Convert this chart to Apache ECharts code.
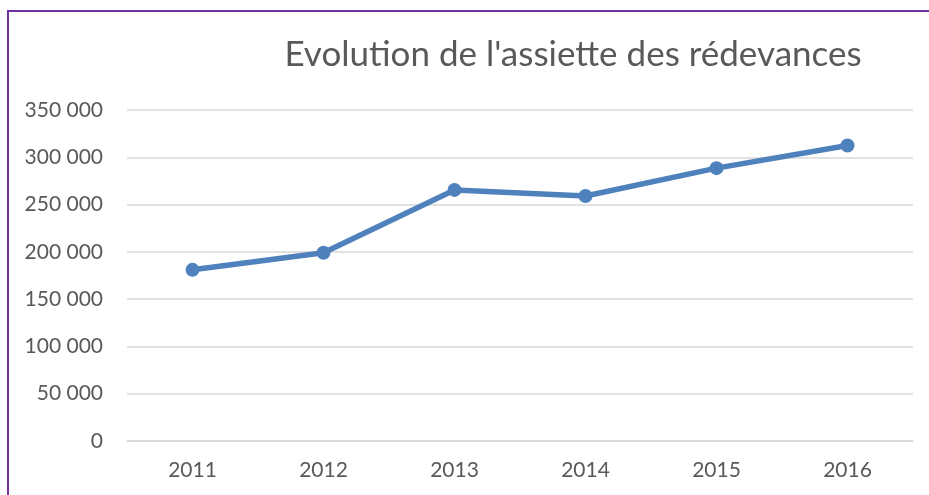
<!DOCTYPE html>
<html>
<head>
<meta charset="utf-8">
<script src="https://cdn.jsdelivr.net/npm/echarts@6/dist/echarts.min.js"></script>
<style>
  html, body { margin: 0; padding: 0; background: #fff; }
  #chart { width: 929px; height: 495px; }
</style>
</head>
<body>
<div id="chart"></div>
<script>
  // values
  var years = ['2011', '2012', '2013', '2014', '2015', '2016'];
  var assiette = [181000, 199000, 265500, 259000, 288500, 312500];
  var yTicks = { min: 0, max: 350000, interval: 50000 };

  function spaceThousands(v) {
    return String(v).replace(/\B(?=(\d{3})+(?!\d))/g, ' ');
  }

  var option = {
    animation: false,
    backgroundColor: '#fff',
    graphic: [{
      type: 'rect',
      shape: { x: 8, y: 11, width: 1000, height: 1000 },
      style: { fill: 'none', stroke: '#7030a0', lineWidth: 2 }
    }],
    title: {
      text: "Evolution de l'assiette des rédevances",
      left: 568,
      textAlign: 'center',
      top: 32,
      textStyle: {
        fontFamily: 'Lato',
        fontSize: 35,
        fontWeight: 'normal',
        color: '#595959'
      }
    },
    grid: { left: 127, right: 16, top: 110, bottom: 54 },
    xAxis: {
      type: 'category',
      data: years,
      boundaryGap: true,
      axisLine: { lineStyle: { color: '#d9d9d9', width: 1.5 } },
      axisTick: { show: false },
      axisLabel: { color: '#595959', fontFamily: 'Lato', fontSize: 21, margin: 19 }
    },
    yAxis: {
      type: 'value',
      min: yTicks.min,
      max: yTicks.max,
      interval: yTicks.interval,
      axisLine: { show: false },
      axisTick: { show: false },
      splitLine: { lineStyle: { color: '#d9d9d9', width: 1.5 } },
      axisLabel: {
        color: '#595959', fontFamily: 'Lato', fontSize: 21, margin: 24,
        formatter: spaceThousands
      }
    },
    series: [{
      name: 'assiette',
      type: 'line',
      data: assiette,
      symbol: 'circle',
      symbolSize: 14,
      lineStyle: { color: '#4f81bd', width: 5.5 },
      itemStyle: { color: '#4f81bd' }
    }]
  };

  var myChart = echarts.init(document.getElementById('chart'));
  myChart.setOption(option);
</script>
</body>
</html>
